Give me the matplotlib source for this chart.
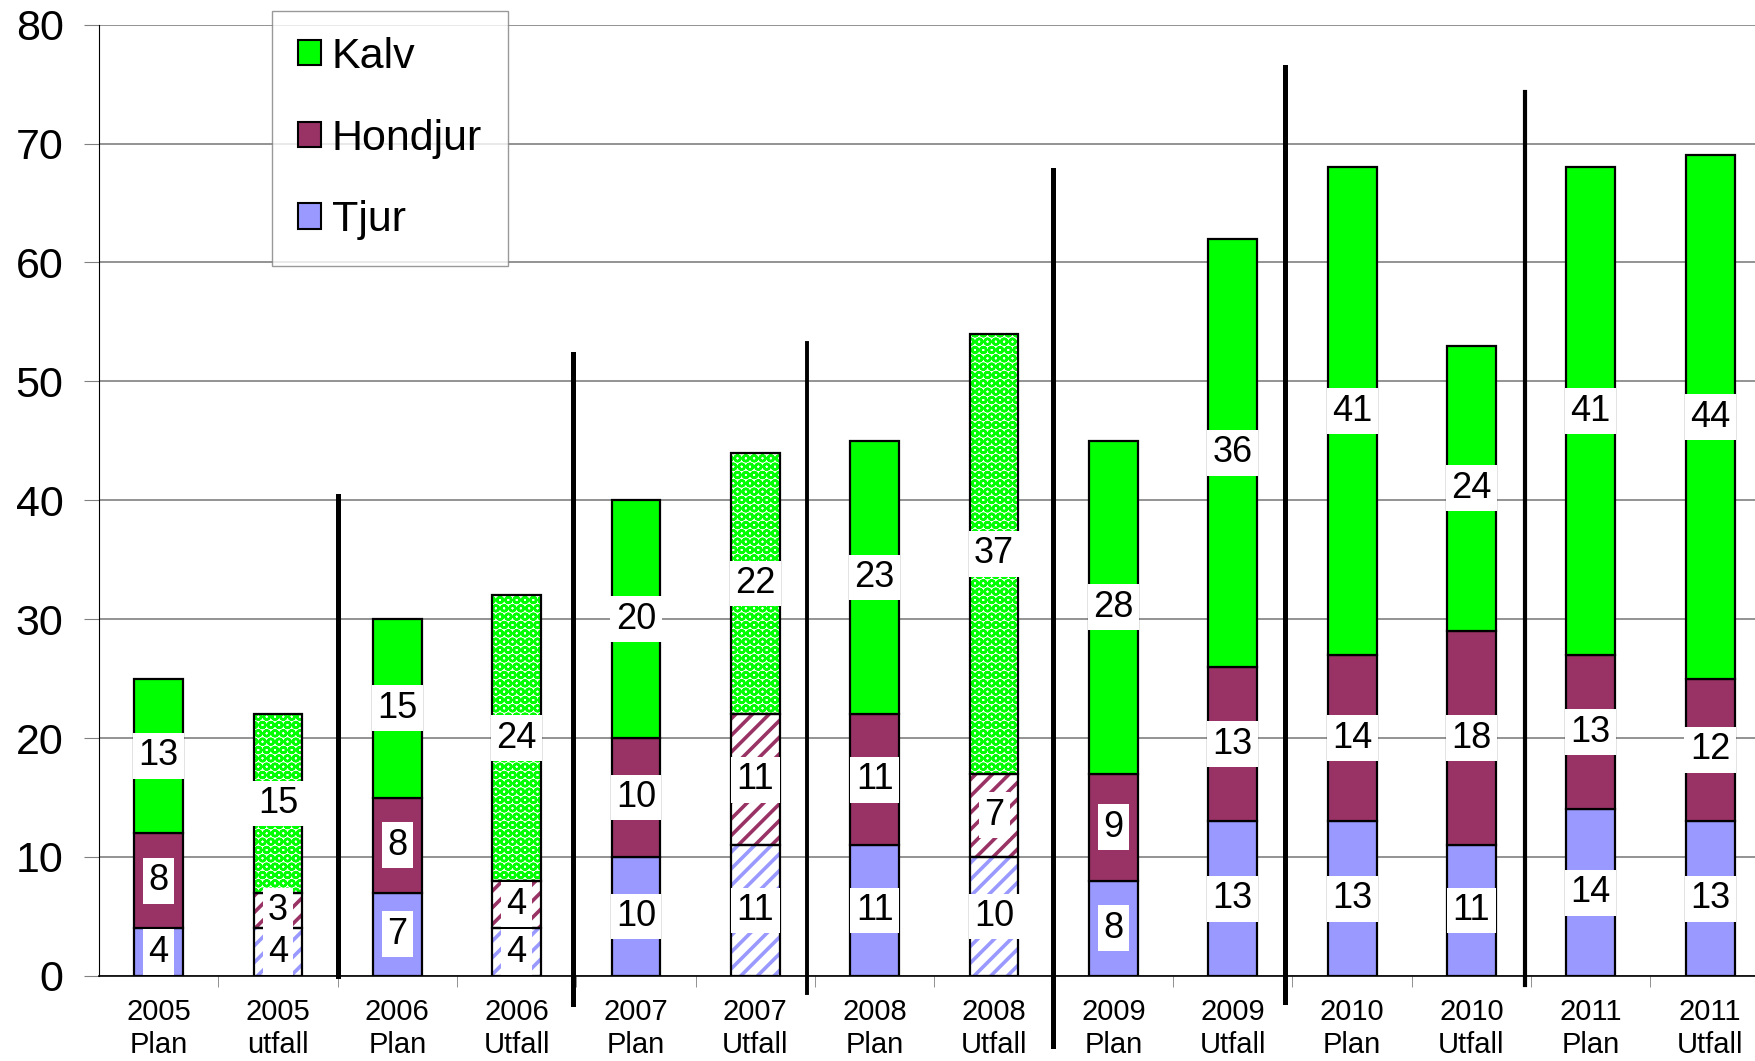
import numpy as np
import matplotlib
matplotlib.use('Agg')
import matplotlib.pyplot as plt
from matplotlib.patches import Patch
from matplotlib.lines import Line2D

plt.rcParams['font.family'] = 'Liberation Sans'

categories = ['2005\nPlan', '2005\nutfall', '2006\nPlan', '2006\nUtfall', '2007\nPlan', '2007\nUtfall',
              '2008\nPlan', '2008\nUtfall', '2009\nPlan', '2009\nUtfall', '2010\nPlan', '2010\nUtfall',
              '2011\nPlan', '2011\nUtfall']
tjur = [4, 4, 7, 4, 10, 11, 11, 10, 8, 13, 13, 11, 14, 13]
hondjur = [8, 3, 8, 4, 10, 11, 11, 7, 9, 13, 14, 18, 13, 12]
kalv = [13, 15, 15, 24, 20, 22, 23, 37, 28, 36, 41, 24, 41, 44]
hatched = [False, True, False, True, False, True, False, True, False, False, False, False, False, False]

# separator lines between years: x, bottom, top (data units)
sep_x = [1.5, 3.47, 5.43, 7.49, 9.44, 11.45]
sep_bottom = [0, -2.35, -1.4, -5.9, -2.2, -0.75]
sep_top = [40.4, 52.3, 53.2, 67.8, 76.4, 74.3]
sep_lw = [3.6, 3.6, 2.8, 3.6, 3.6, 3.0]

c_kalv = '#00ff00'
c_hond = '#993366'
c_tjur = '#9999ff'

fig = plt.figure(figsize=(17.55, 10.61), dpi=100)
ax = fig.add_axes([0.0564, 0.0802, 0.952, 0.8966])

x = np.arange(len(categories))
w = 0.41
# values, colour, hatch pattern, hatch line width
series = [(tjur, c_tjur, '//', 2.6), (hondjur, c_hond, '//', 2.6), (kalv, c_kalv, 'OO', 1.8)]
bottom = np.zeros(len(categories))
for vals, col, hpat, hlw in series:
    vals = np.array(vals)
    for i in range(len(x)):
        if hatched[i]:
            with plt.rc_context({'hatch.linewidth': hlw}):
                ax.bar(x[i], vals[i], w, bottom=bottom[i], color='white', edgecolor=col,
                       hatch=hpat, linewidth=0, zorder=3)
            ax.bar(x[i], vals[i], w, bottom=bottom[i], fill=False, edgecolor='black',
                   linewidth=1.6, zorder=4)
        else:
            ax.bar(x[i], vals[i], w, bottom=bottom[i], color=col, edgecolor='black',
                   linewidth=1.6, zorder=3)
        ax.text(x[i], bottom[i] + vals[i] / 2, str(vals[i]), ha='center', va='center',
                fontsize=26, zorder=6,
                bbox=dict(facecolor='white', edgecolor='none', pad=4))
    bottom += vals

for sx, sb, st, lw in zip(sep_x, sep_bottom, sep_top, sep_lw):
    ax.add_line(Line2D([sx, sx], [sb, st], color='black', linewidth=lw, clip_on=False, zorder=7))

ax.set_xlim(-0.5, 13.5)
ax.set_ylim(0, 80)
ax.set_yticks(np.arange(0, 81, 10))
ax.yaxis.grid(True, color='#808080', linewidth=1.2, zorder=0)
ax.set_axisbelow(True)
ax.tick_params(axis='y', labelsize=31, length=11, color='#808080', pad=14.5)
ax.set_xticks(x)
ax.set_xticklabels(categories, fontsize=21, linespacing=1.2)
ax.set_xticks(x[:-1] + 0.5, minor=True)
ax.tick_params(axis='x', which='major', length=0, pad=16)
ax.tick_params(axis='x', which='minor', length=8, color='#808080')
for s in ['top', 'right']:
    ax.spines[s].set_visible(False)
ax.spines['left'].set_color('black')
ax.spines['bottom'].set_color('black')
ax.spines['bottom'].set_linewidth(1.2)

handles = [Patch(facecolor=c_kalv, edgecolor='black', linewidth=1.5),
           Patch(facecolor=c_hond, edgecolor='black', linewidth=1.5),
           Patch(facecolor=c_tjur, edgecolor='black', linewidth=1.5)]
leg = fig.legend(handles, ['Kalv', 'Hondjur', 'Tjur'], loc='upper left',
                 bbox_to_anchor=(0.155, 0.9896), borderaxespad=0, fontsize=31,
                 handlelength=0.53, handleheight=0.53, handletextpad=0.26,
                 labelspacing=0.97, borderpad=0.6, fancybox=False, frameon=True)
leg.get_frame().set_edgecolor('#808080')
leg.get_frame().set_linewidth(1.0)
leg.set_zorder(10)

fig.savefig('out.png', dpi=100)
